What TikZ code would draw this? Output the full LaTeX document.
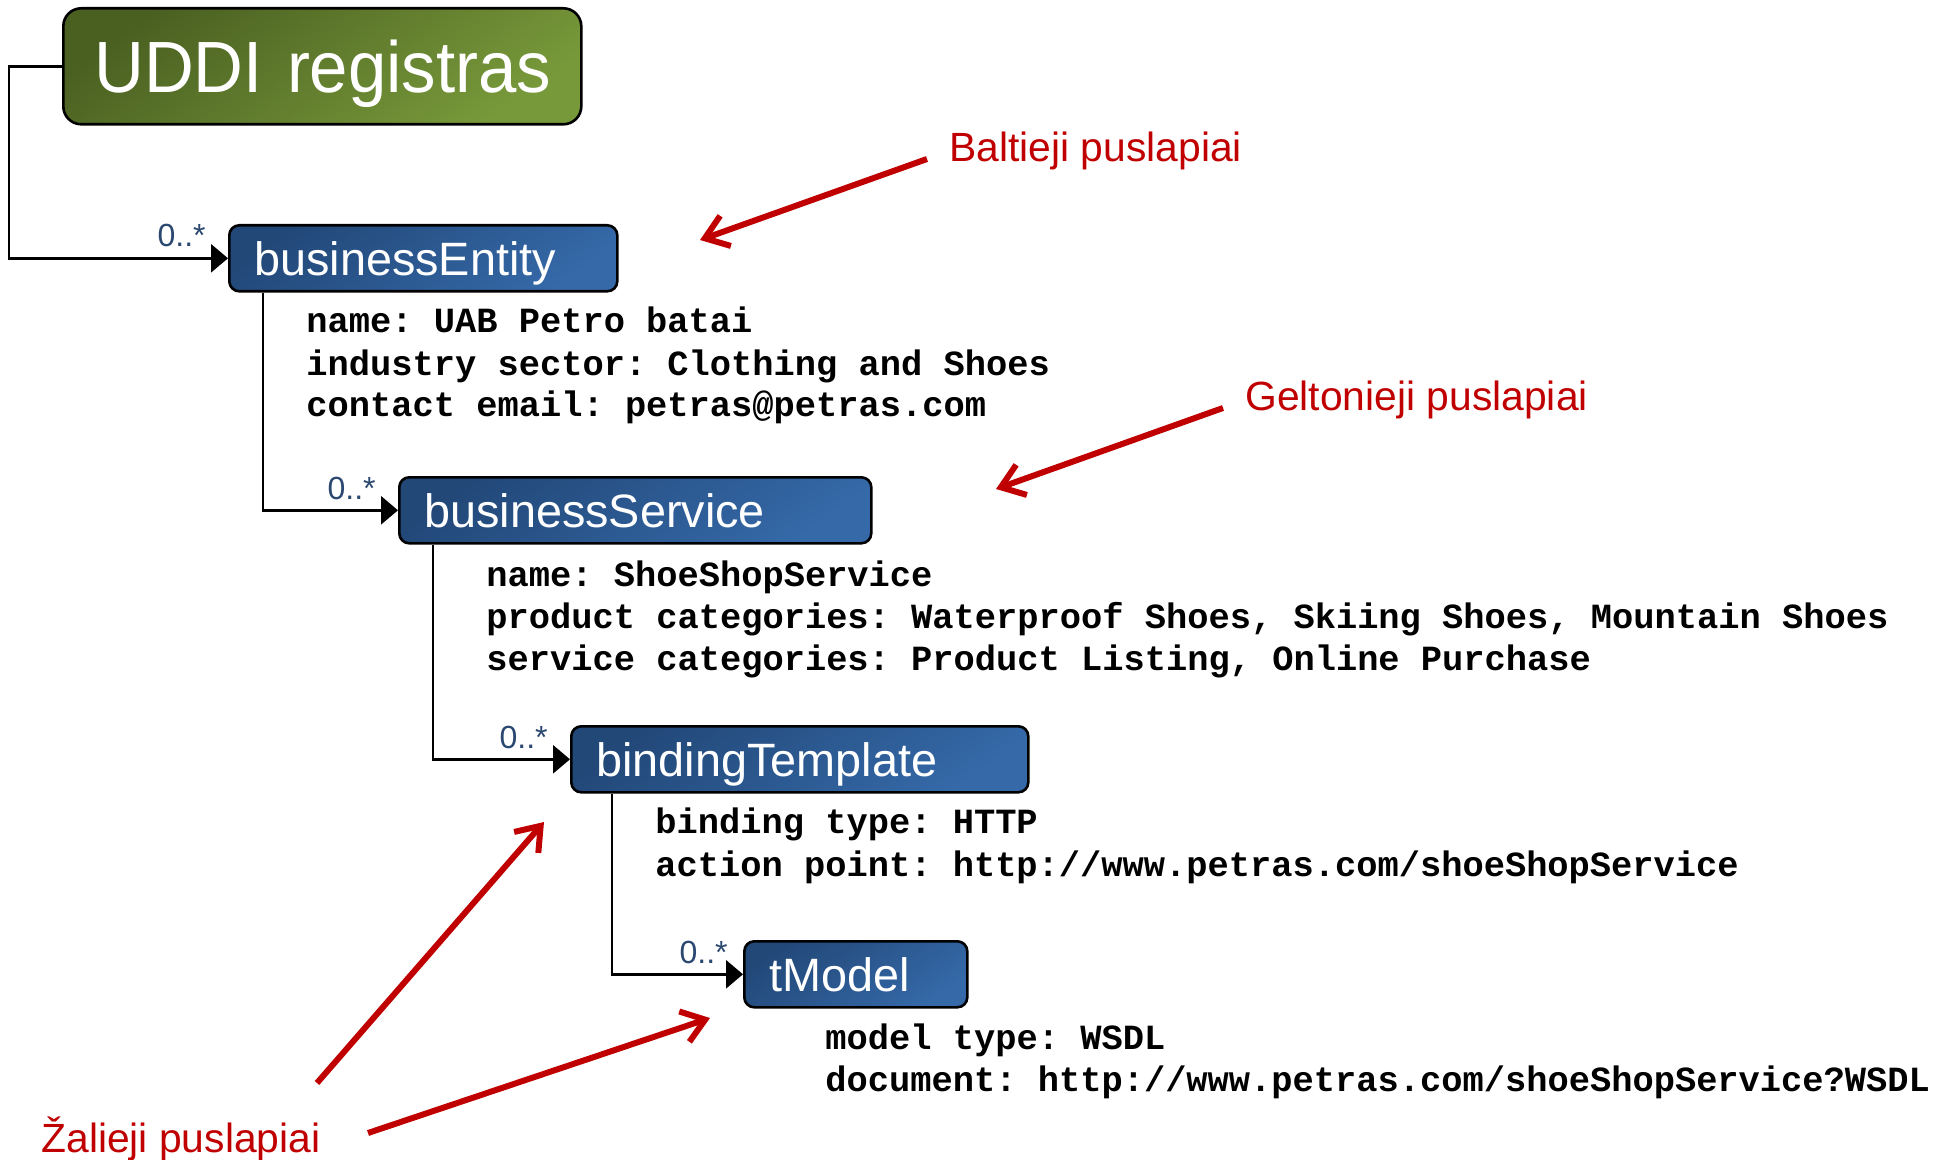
\documentclass[tikz,border=0pt]{standalone}
\usepackage{fontspec}
\setmainfont{Liberation Sans}
\newfontfamily\codefont{Liberation Mono}
\newfontfamily\uddifont{Liberation Sans}[FakeStretch=0.95]
\usetikzlibrary{arrows.meta}
\definecolor{greenA}{HTML}{4A6021}
\definecolor{greenB}{HTML}{78993A}
\definecolor{blueA}{HTML}{224878}
\definecolor{blueB}{HTML}{3569A8}
\definecolor{multblue}{HTML}{2B4870}
\definecolor{redc}{HTML}{C00000}
\tikzset{
  bluebox/.style={draw=black, line width=1.3pt, rounded corners=5pt,
    top color=blueA, bottom color=blueB, shading angle=35,
    anchor=north west, inner xsep=12.5pt, inner ysep=0pt, minimum height=33pt,
    text=white, font=\fontsize{23.4}{28}\selectfont,
    text height=16.75pt, text depth=0pt, align=left},
  greenbox/.style={draw=black, line width=1.3pt, rounded corners=9pt,
    top color=greenA, bottom color=greenB, shading angle=35,
    anchor=north west, inner xsep=15.5pt, inner ysep=0pt, minimum height=58pt,
    minimum width=259pt, text width=228pt,
    text=white, font=\uddifont\fontsize{36.3}{42}\selectfont,
    text height=26pt, text depth=0pt, align=left},
  conn/.style={draw=black, line width=1.4pt, -{Triangle[length=8.5pt,width=14pt]}},
  mult/.style={anchor=base east, inner sep=0pt, text=multblue, font=\fontsize{16}{19}\selectfont},
  prop/.style={anchor=base west, inner sep=0pt, font=\codefont\bfseries\fontsize{17.7}{21}\selectfont\frenchspacing},
  redlbl/.style={anchor=base west, inner sep=0pt, text=redc, font=\fontsize{20.4}{24}\selectfont},
  redarr/.style={draw=redc, line width=3pt, -{Straight Barb[length=11pt,width=16pt]}}
}
\begin{document}
\begin{tikzpicture}[x=0.5pt,y=-0.5pt]
\useasboundingbox (0,0) rectangle (1952,1160);

% boxes
\node[greenbox] (uddi) at (62,7) {\mbox{UDDI registras}};
\node[bluebox, minimum width=194pt, text width=169pt] (be) at (228,224) {\mbox{businessEntity}};
\node[bluebox, minimum width=236pt, text width=211pt] (bs) at (398,476) {\mbox{businessService}};
\node[bluebox, minimum width=228.5pt, text width=203.5pt] (bt) at (570,725) {\mbox{bindingTemplate}};
\node[bluebox, minimum width=111.5pt, text width=86.5pt] (tm) at (743,940) {\mbox{tModel}};

% connectors
\draw[conn] (uddi.west) -- ++(-53,0) |- (be.west);
\draw[conn] ([xshift=17.5pt]be.south west) |- (bs.west);
\draw[conn] ([xshift=17.5pt]bs.south west) |- (bt.west);
\draw[conn] ([xshift=21pt]bt.south west) |- (tm.west);

% multiplicities
\node[mult] (m1) at ([xshift=-11pt,yshift=-11.5pt]be.north west) {0..*};
\node[mult] (m2) at ([xshift=-11pt,yshift=-11.5pt]bs.north west) {0..*};
\node[mult] (m3) at ([xshift=-11pt,yshift=-11.5pt]bt.north west) {0..*};
\node[mult] (m4) at ([xshift=-7.5pt,yshift=-11.5pt]tm.north west) {0..*};

% properties
\node[prop] (p1a) at (306,333) {name: UAB Petro batai};
\node[prop] (p1b) at (306,375) {industry sector: Clothing and Shoes};
\node[prop] (p1c) at (306,416) {contact email: petras@petras.com};
\node[prop] (p2a) at (486,586) {name: ShoeShopService};
\node[prop] (p2b) at (486,628) {product categories: Waterproof Shoes, Skiing Shoes, Mountain Shoes};
\node[prop] (p2c) at (486,670) {service categories: Product Listing, Online Purchase};
\node[prop] (p3a) at (655,833) {binding type: HTTP};
\node[prop] (p3b) at (655,876) {action point: http://www.petras.com/shoeShopService};
\node[prop] (p4a) at (825,1049) {model type: WSDL};
\node[prop] (p4b) at (825,1091) {document: http://www.petras.com/shoeShopService?WSDL};

% red labels
\node[redlbl] (bal) at (949,162) {Baltieji puslapiai};
\node[redlbl] (gel) at (1245,410) {Geltonieji puslapiai};
\node[redlbl] (zal) at (41,1152) {Žalieji puslapiai};

\coordinate (balS) at (927,159);
\coordinate (balT) at (700,240);
\coordinate (gelS) at (1223,408);
\coordinate (gelT) at (996,489);
\coordinate (zalAS) at (317,1083);
\coordinate (zalAT) at (544,822);
\coordinate (zalBS) at (368,1133);
\coordinate (zalBT) at (710,1018);

\draw[redarr] (balS) -- (balT);
\draw[redarr] (gelS) -- (gelT);
\draw[redarr] (zalAS) -- (zalAT);
\draw[redarr] (zalBS) -- (zalBT);
\end{tikzpicture}
\end{document}
